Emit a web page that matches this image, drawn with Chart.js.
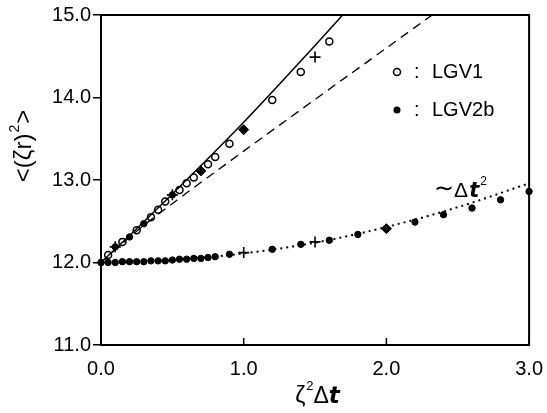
<!DOCTYPE html>
<html>
<head>
<meta charset="utf-8">
<script src="https://cdn.jsdelivr.net/npm/chart.js@4.4.1/dist/chart.umd.min.js"></script>
<style>
  html, body { margin: 0; padding: 0; background: #fff; }
  #wrap { width: 547px; height: 413px; }
</style>
</head>
<body>
<div id="wrap"><canvas id="chart"></canvas></div>
<script>
// open circles (LGV1), upper branch
const lgv1X = [0.05, 0.15, 0.25, 0.35, 0.40, 0.45, 0.55, 0.60, 0.65, 0.75, 0.80, 0.90, 1.20, 1.40, 1.60];
const lgv1Y = [12.09, 12.25, 12.39, 12.55, 12.64, 12.74, 12.88, 12.96, 13.03, 13.19, 13.28, 13.44, 13.97, 14.31, 14.68];

// filled circles (LGV2b), upper branch
const lgv2UpX = [0.00, 0.05, 0.10, 0.15, 0.20, 0.25, 0.30, 0.50, 0.70];
const lgv2UpY = [12.00, 12.09, 12.19, 12.25, 12.31, 12.39, 12.47, 12.82, 13.11];

// filled circles (LGV2b), lower branch
const lgv2LowX = [0.00, 0.05, 0.10, 0.15, 0.20, 0.25, 0.30, 0.35, 0.40, 0.45, 0.50, 0.55, 0.60, 0.65, 0.70, 0.75, 0.80,
                  0.90, 1.20, 1.40, 1.60, 1.80, 2.20, 2.40, 2.60, 2.80, 3.00];
const lgv2LowY = [12.00, 12.00, 12.00, 12.01, 12.01, 12.01, 12.01, 12.02, 12.02, 12.02, 12.03, 12.04, 12.04, 12.05, 12.05, 12.06, 12.07,
                  12.10, 12.16, 12.22, 12.27, 12.34, 12.49, 12.58, 12.66, 12.76, 12.86];

// other markers
const plusX = [0.10, 0.50, 1.50, 1.00, 1.50];
const plusY = [12.19, 12.82, 14.49, 12.12, 12.25];
const diamondX = [0.70, 1.00, 2.00];
const diamondY = [13.11, 13.61, 12.41];

// curves
const solidX = [0.00, 0.25, 0.50, 0.75, 1.00, 1.25, 1.50, 1.75];
const solidY = [12.00, 12.41, 12.83, 13.26, 13.70, 14.16, 14.63, 15.11];
const dashX = [0.00, 0.30, 1.00, 2.00, 2.40];
const dashY = [12.00, 12.45, 13.35, 14.60, 15.10];
const dotX = [0.00, 0.50, 1.00, 1.50, 2.00, 2.50, 3.00];
const dotY = [12.00, 12.03, 12.11, 12.24, 12.43, 12.67, 12.96];

const xTicks = [0, 1, 2, 3];
const yTicks = [11, 12, 13, 14, 15];

function pts(xs, ys) { return xs.map((x, i) => ({ x: x, y: ys[i] })); }

const FONT = '"Liberation Sans", Arial, sans-serif';
const TFONT = 'italic 600 23px "DejaVu Sans", sans-serif';

const extras = {
  id: 'extras',
  afterDraw(chart) {
    const ctx = chart.ctx;
    const a = chart.chartArea;
    const xs = chart.scales.x;
    ctx.save();
    // frame
    ctx.strokeStyle = '#000';
    ctx.lineWidth = 2;
    ctx.strokeRect(a.left, a.top, a.right - a.left, a.bottom - a.top);
    // inward x ticks
    ctx.lineWidth = 1.5;
    xTicks.forEach(v => {
      const px = xs.getPixelForValue(v);
      ctx.beginPath();
      ctx.moveTo(px, a.bottom);
      ctx.lineTo(px, a.bottom - 7);
      ctx.stroke();
    });
    ctx.fillStyle = '#000';
    // x title
    ctx.textBaseline = 'alphabetic';
    ctx.textAlign = 'left';
    ctx.font = '23px ' + FONT;
    const w1 = ctx.measureText('ζ').width;
    ctx.font = '13px ' + FONT;
    const w2 = ctx.measureText('2').width;
    ctx.font = '23px ' + FONT;
    const w3 = ctx.measureText('Δ').width;
    ctx.font = TFONT;
    const w4 = ctx.measureText('t').width;
    const x0 = 317 - (w1 + w2 + w3 + w4) / 2;
    ctx.font = '23px ' + FONT;
    ctx.fillText('ζ', x0, 403);
    ctx.font = '13px ' + FONT;
    ctx.fillText('2', x0 + w1 + 1, 390);
    ctx.font = '23px ' + FONT;
    ctx.fillText('Δ', x0 + w1 + w2 + 1, 403);
    ctx.font = TFONT;
    ctx.fillText('t', x0 + w1 + w2 + w3 + 1, 403);

    // y title
    ctx.save();
    ctx.translate(31, 147);
    ctx.rotate(-Math.PI / 2);
    ctx.font = '24px ' + FONT;
    const ya = '<(ζr)';
    const yb = '>';
    const wa = ctx.measureText(ya).width;
    const wb = ctx.measureText(yb).width;
    ctx.font = '14px ' + FONT;
    const w2b = ctx.measureText('2').width;
    const y0 = -(wa + w2b + wb) / 2;
    ctx.font = '24px ' + FONT;
    ctx.fillText(ya, y0, 0);
    ctx.font = '14px ' + FONT;
    ctx.fillText('2', y0 + wa + 1, -12);
    ctx.font = '24px ' + FONT;
    ctx.fillText(yb, y0 + wa + w2b + 2, 0);
    ctx.restore();

    // legend
    ctx.textBaseline = 'middle';
    ctx.font = '20px ' + FONT;
    ctx.lineWidth = 1.5;
    ctx.beginPath();
    ctx.arc(397, 72, 3.5, 0, Math.PI * 2);
    ctx.stroke();
    ctx.fillText(':', 414, 72);
    ctx.fillText('LGV1', 432, 72);
    ctx.beginPath();
    ctx.arc(397, 110, 3.5, 0, Math.PI * 2);
    ctx.fill();
    ctx.fillText(':', 414, 110);
    ctx.fillText('LGV2b', 432, 110);

    // annotation ~Δt^2
    ctx.textBaseline = 'alphabetic';
    ctx.font = '24px "DejaVu Sans", sans-serif';
    ctx.fillText('∼', 434, 196);
    const wtl = ctx.measureText('∼').width;
    ctx.font = '21px ' + FONT;
    ctx.fillText('Δ', 434 + wtl, 197);
    const wd = ctx.measureText('Δ').width;
    ctx.font = 'italic 600 21px "DejaVu Sans", sans-serif';
    ctx.fillText('t', 434 + wtl + wd + 1, 197);
    const wtt = ctx.measureText('t').width;
    ctx.font = '12px ' + FONT;
    ctx.fillText('2', 434 + wtl + wd + wtt + 2, 185);
    ctx.restore();
  }
};

new Chart(document.getElementById('chart'), {
  type: 'scatter',
  data: {
    datasets: [
      { data: pts(solidX, solidY), showLine: true, borderColor: '#000', borderWidth: 1.5,
        pointRadius: 0, cubicInterpolationMode: 'monotone', clip: 0 },
      { data: pts(dashX, dashY), showLine: true, borderColor: '#000', borderWidth: 1.3,
        borderDash: [9, 6], pointRadius: 0, tension: 0.3, clip: 0 },
      { data: pts(dotX, dotY), showLine: true, borderColor: '#000', borderWidth: 2,
        borderDash: [2, 4], pointRadius: 0, cubicInterpolationMode: 'monotone', clip: 0 },
      { label: 'LGV1', data: pts(lgv1X, lgv1Y), pointStyle: 'circle', pointRadius: 3.5,
        borderColor: '#000', borderWidth: 1.5, backgroundColor: '#fff', clip: 8 },
      { label: 'LGV2b', data: pts(lgv2UpX, lgv2UpY), pointStyle: 'circle', pointRadius: 3.2,
        borderColor: '#000', borderWidth: 1, backgroundColor: '#000', clip: 8 },
      { label: 'LGV2b', data: pts(lgv2LowX, lgv2LowY), pointStyle: 'circle', pointRadius: 3.2,
        borderColor: '#000', borderWidth: 1, backgroundColor: '#000', clip: 8 },
      { data: pts(plusX, plusY), pointStyle: 'cross', pointRadius: 5.5,
        borderColor: '#000', borderWidth: 1.6, clip: 8 },
      { data: pts(diamondX, diamondY), pointStyle: 'rectRot', pointRadius: 5,
        borderColor: '#000', borderWidth: 1, backgroundColor: '#000', clip: 8 }
    ]
  },
  options: {
    responsive: true,
    maintainAspectRatio: false,
    animation: false,
    layout: { padding: { left: 0, right: 16, top: 15, bottom: 0 } },
    plugins: { legend: { display: false }, tooltip: { enabled: false } },
    scales: {
      x: {
        type: 'linear', min: 0, max: 3,
        afterFit: s => { s.height = 68; },
        afterBuildTicks: s => { s.ticks = xTicks.map(v => ({ value: v })); },
        grid: { display: false },
        border: { display: true, color: '#000', width: 2 },
        ticks: { color: '#000', padding: 4, font: { family: FONT, size: 20 },
                 maxRotation: 0, callback: v => v.toFixed(1) }
      },
      y: {
        type: 'linear', min: 11, max: 15,
        afterFit: s => { s.width = 101; },
        afterBuildTicks: s => { s.ticks = yTicks.map(v => ({ value: v })); },
        grid: { drawOnChartArea: false, drawTicks: true, tickLength: 8, color: '#000', lineWidth: 1.5 },
        border: { display: true, color: '#000', width: 2 },
        ticks: { color: '#000', padding: 2, font: { family: FONT, size: 20 },
                 callback: v => v.toFixed(1) }
      }
    }
  },
  plugins: [extras]
});
</script>
</body>
</html>
